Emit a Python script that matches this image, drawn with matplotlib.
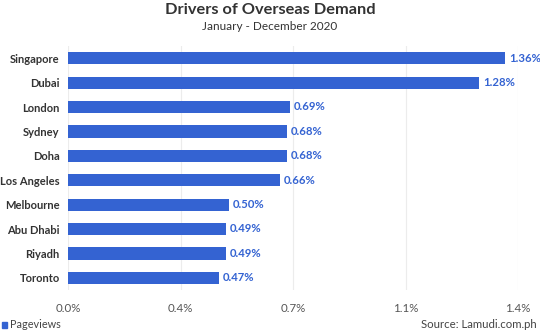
import matplotlib.pyplot as plt
from matplotlib.patches import Rectangle

cities = ['Singapore', 'Dubai', 'London', 'Sydney', 'Doha', 'Los Angeles',
          'Melbourne', 'Abu Dhabi', 'Riyadh', 'Toronto']
pageviews = [1.36, 1.28, 0.69, 0.68, 0.68, 0.66, 0.50, 0.49, 0.49, 0.47]
tick_vals = [0.0, 0.35, 0.7, 1.05, 1.4]
tick_labels = ['0.0%', '0.4%', '0.7%', '1.1%', '1.4%']

blue = '#3463d2'
plt.rcParams['font.family'] = ['Lato', 'DejaVu Sans']

fig = plt.figure(figsize=(5.4, 3.32), dpi=100)
ax = fig.add_axes([68 / 540, 1 - 290 / 332, 450 / 540, 244 / 332])

y = list(range(len(cities)))
ax.barh(y, pageviews, height=0.5, color=blue, zorder=2)
for yi, v in zip(y, pageviews):
    ax.text(v + 0.012, yi, f'{v:.2f}%', va='center', ha='left',
            fontsize=8.2, color=blue, fontweight='bold')

ax.set_ylim(len(cities) - 0.5, -0.5)
ax.set_xlim(0, 1.4)
ax.set_yticks(y)
ax.set_yticklabels(cities, fontsize=8, fontweight='bold', color='#333333')
ax.set_xticks(tick_vals)
ax.set_xticklabels(tick_labels, fontsize=8.3, color='#555555')
ax.tick_params(length=0, pad=6)
ax.tick_params(axis='x', pad=9)
ax.grid(axis='x', color='#ececec', linewidth=0.8, zorder=0)
for s in ax.spines.values():
    s.set_visible(False)

fig.text(0.5, 1 - 10 / 332, 'Drivers of Overseas Demand', ha='center', va='center',
         fontsize=11.8, fontweight='bold', color='#333333')
fig.text(0.5, 1 - 26 / 332, 'January - December 2020', ha='center', va='center',
         fontsize=8.5, color='#333333')

# legend swatch and source note along the bottom
fig.patches.append(Rectangle((2 / 540, 1 - 328 / 332), 5 / 540, 6 / 332,
                             transform=fig.transFigure, color=blue))
fig.text(10 / 540, 1 - 325 / 332, 'Pageviews', ha='left', va='center',
         fontsize=7.8, color='#444444')
fig.text(537 / 540, 1 - 325 / 332, 'Source: Lamudi.com.ph', ha='right', va='center',
         fontsize=8.2, color='#444444')

fig.savefig('out.png', dpi=100, facecolor='white')
